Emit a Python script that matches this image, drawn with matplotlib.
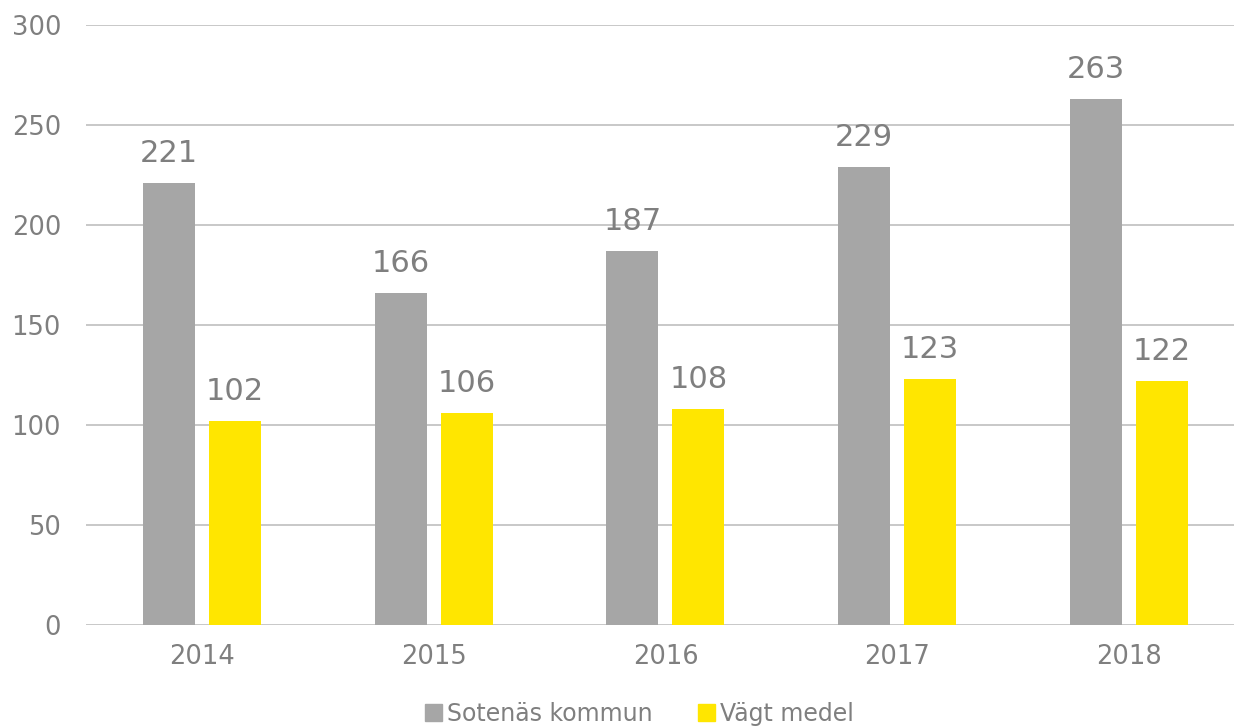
import matplotlib.pyplot as plt
from matplotlib.patches import Patch
import numpy as np

years = ["2014", "2015", "2016", "2017", "2018"]
sotenas = [221, 166, 187, 229, 263]
vagt_medel = [102, 106, 108, 123, 122]

text_col = "#7f7f7f"
plt.rcParams["font.family"] = ["DejaVu Sans"]

fig = plt.figure(figsize=(12.34, 7.27), dpi=100)
ax = fig.add_axes([86 / 1234, 102 / 727, 1 - 86 / 1234, 600 / 727])

x = np.arange(len(years))
w = 0.224
off = 0.1424
b1 = ax.bar(x - off, sotenas, w, color="#a6a6a6", zorder=3)
b2 = ax.bar(x + off, vagt_medel, w, color="#ffe600", zorder=3)

for bars in (b1, b2):
    ax.bar_label(bars, padding=11, fontsize=22, color=text_col)

ax.set_xlim(-0.5, 4.453)
ax.set_ylim(0, 300)
ax.set_yticks(range(0, 301, 50))
ax.set_xticks(x)
ax.set_xticklabels(years)
ax.yaxis.grid(True, color="#c8c8c8", linewidth=1.4, zorder=0)
ax.tick_params(axis="both", length=0, labelsize=18.5, labelcolor=text_col)
ax.tick_params(axis="y", pad=18)
ax.tick_params(axis="x", pad=14)
for s in ax.spines.values():
    s.set_visible(False)

handles = [Patch(color="#a6a6a6", label="Sotenäs kommun"),
           Patch(color="#ffe600", label="Vägt medel")]
fig.legend(handles=handles, loc="center", bbox_to_anchor=(0.518, 0.018),
           ncol=2, frameon=False, fontsize=17, labelcolor=text_col,
           handlelength=0.75, handleheight=0.75, handletextpad=0.2,
           columnspacing=1.9)

plt.savefig("out.png", dpi=100)
